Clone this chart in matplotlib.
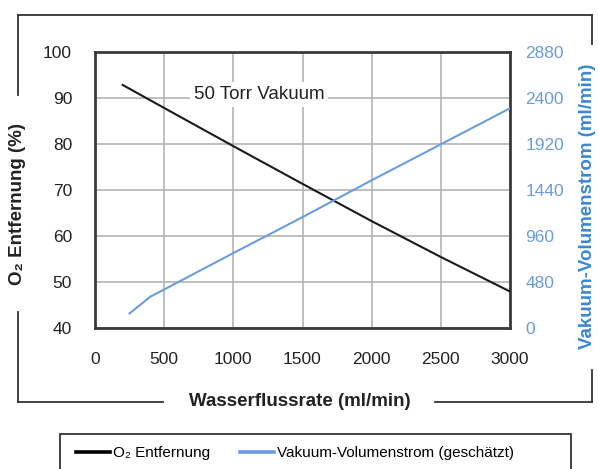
import matplotlib
matplotlib.use('Agg')
import matplotlib.pyplot as plt
from matplotlib.lines import Line2D
from matplotlib.patches import Rectangle

plt.rcParams['font.family'] = ['Liberation Sans', 'DejaVu Sans']

# Daten
fluss_o2 = [200, 500, 1000, 1500, 2000, 2500, 3000]
o2_entfernung = [92.9, 87.9, 79.6, 71.4, 63.3, 55.5, 48.0]

fluss_vak = [250, 400, 500, 1000, 1500, 2000, 2500, 3000]
vakuum_strom = [155, 330, 405, 785, 1160, 1545, 1920, 2296]

x_ticks = [0, 500, 1000, 1500, 2000, 2500, 3000]
y_ticks_links = [40, 50, 60, 70, 80, 90, 100]
y_ticks_rechts = [0, 480, 960, 1440, 1920, 2400, 2880]

W, H = 598, 469
SCHWARZ = '#1a1a1a'
BLAU = '#6a9de0'
BLAU_TICK = '#6a9bdc'
BLAU_TITEL = '#3a87d2'
RAHMEN = '#333333'


def fx(x):
    return x / W


def fy(y):
    return 1 - y / H


fig = plt.figure(figsize=(W / 100, H / 100), dpi=100)
ax = fig.add_axes([fx(95), fy(328.3), fx(510) - fx(95), fy(52.3) - fy(328.3)])
ax2 = ax.twinx()

ax.plot(fluss_o2, o2_entfernung, color=SCHWARZ, linewidth=1.5, zorder=3)
ax2.plot(fluss_vak, vakuum_strom, color=BLAU, linewidth=1.5, zorder=3)

ax.set_xlim(0, 3000)
ax.set_ylim(40, 100)
ax2.set_ylim(0, 2880)
ax.set_xticks(x_ticks)
ax.set_yticks(y_ticks_links)
ax2.set_yticks(y_ticks_rechts)

ax.grid(True, color='#b4b4b4', linewidth=1.2)
ax.set_axisbelow(True)
for s in ax.spines.values():
    s.set_color('#3a3a3a')
    s.set_linewidth(2)
for s in ax2.spines.values():
    s.set_visible(False)

ax.tick_params(axis='x', length=0, labelsize=12.5, pad=17, colors='#222222')
ax.tick_params(axis='y', length=0, labelsize=12.5, pad=16.5, colors='#222222')
ax2.tick_params(axis='y', length=0, labelsize=12.5, pad=11, colors=BLAU_TICK)

ax.text(1187, 90.8, '50 Torr Vakuum', ha='center', va='center', fontsize=13.5,
        color='#222222', zorder=4,
        bbox=dict(boxstyle='square,pad=0.2', facecolor='white', edgecolor='none'))

# Achsentitel
fig.text(fx(18), fy(204), 'O₂ Entfernung (%)', rotation=90, ha='center', va='center',
         fontsize=13.5, fontweight='bold', color='#222222')
fig.text(fx(588), fy(206), 'Vakuum-Volumenstrom (ml/min)', rotation=90, ha='center',
         va='center', fontsize=13.5, fontweight='bold', color=BLAU_TITEL)
fig.text(fx(300), fy(401), 'Wasserflussrate (ml/min)', ha='center', va='center',
         fontsize=13.5, fontweight='bold', color='#222222')

# Rahmen um das Diagramm (mit Lücken für die Titel)
segmente = [
    [(18, 15), (592, 15)],
    [(18, 15), (18, 95)],
    [(18, 312), (18, 402)],
    [(18, 402), (163, 402)],
    [(435, 402), (592, 402)],
    [(592, 402), (592, 370)],
    [(592, 44), (592, 15)],
]
for (x0, y0), (x1, y1) in segmente:
    fig.add_artist(Line2D([fx(x0), fx(x1)], [fy(y0), fy(y1)], transform=fig.transFigure,
                          color=RAHMEN, linewidth=1.3))

# Legende
fig.add_artist(Rectangle((fx(60), fy(480)), fx(571) - fx(60), fy(434) - fy(480),
                         transform=fig.transFigure, facecolor='none', edgecolor=RAHMEN,
                         linewidth=1.3))
handles = [Line2D([], [], color='black', linewidth=2.6),
           Line2D([], [], color=BLAU, linewidth=2.6)]
fig.legend(handles, ['O₂ Entfernung', 'Vakuum-Volumenstrom (geschätzt)'],
           loc='center left', bbox_to_anchor=(fx(76), fy(453)), ncol=2, frameon=False,
           fontsize=11, handlelength=2.2, handletextpad=0.2, columnspacing=2.0,
           borderaxespad=0, borderpad=0)

fig.savefig('out.png', dpi=100)
